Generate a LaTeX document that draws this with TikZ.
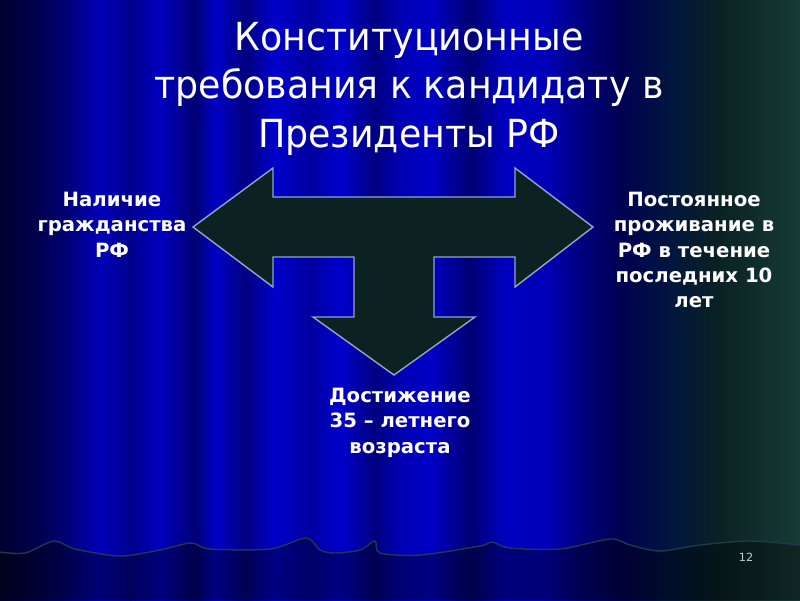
\documentclass[tikz,border=0pt]{standalone}
\usepackage{fontspec}
\setmainfont{DejaVu Sans}
\usepackage{xcolor}
\usetikzlibrary{positioning}
\definecolor{arrowfill}{HTML}{0C2121}
\definecolor{arrowedge}{HTML}{8FA5CC}
\definecolor{hemline}{HTML}{1C3A4C}
\definecolor{tealdark}{HTML}{0A2222}
\definecolor{teallight}{HTML}{173B37}
\definecolor{navyteal}{HTML}{00163E}
\tikzset{
    titletext/.style={text=white, font=\fontsize{27.5}{34.5}\selectfont, align=center, inner sep=0pt,
        xscale=0.94, transform shape},
    reqtext/.style={text=white, font=\bfseries\fontsize{14}{18}\selectfont, align=center, inner sep=0pt},
    tarrow/.style={fill=arrowfill, draw=arrowedge, line width=1pt, line join=miter}
}

\begin{document}
\begin{tikzpicture}[x=0.025cm, y=-0.025cm]
\useasboundingbox (0,0) rectangle (800,600);

% Curtain
\foreach \xa/\xb/\pa/\pb in {0/30/18/28, 30/60/28/42, 60/100/42/72, 100/130/72/55,
    130/160/55/75, 160/195/75/45, 195/215/45/78, 215/245/78/50, 245/275/50/80,
    275/310/80/62, 310/340/62/80, 340/375/80/50, 375/400/50/70, 400/430/70/78,
    430/470/78/45, 470/505/45/75, 505/545/75/72, 545/580/72/50, 580/621/50/32}
    \fill[left color=blue!\pa!black, right color=blue!\pb!black] (\xa,0) rectangle (\xb,600);
\fill[left color=blue!32!black, right color=navyteal] (620,0) rectangle (671,600);
\fill[left color=navyteal, right color=tealdark] (670,0) rectangle (721,600);
\fill[left color=tealdark, right color=teallight] (720,0) rectangle (800,600);

% Hem of the curtain
\fill[black, opacity=0.35] plot[smooth] coordinates {(0,552) (25,553) (54,541) (75,549)
    (120,556) (160,550) (191,543) (210,549) (270,549) (306,538) (320,550) (335,553)
    (360,550) (375,541) (380,553) (420,555) (480,546) (492,542) (510,548) (560,549)
    (610,539) (630,545) (660,551) (700,545) (750,541) (800,545)}
    -- (800,600) -- (0,600) -- cycle;
\draw[hemline, line width=1pt] plot[smooth] coordinates {(0,552) (25,553) (54,541) (75,549)
    (120,556) (160,550) (191,543) (210,549) (270,549) (306,538) (320,550) (335,553)
    (360,550) (375,541) (380,553) (420,555) (480,546) (492,542) (510,548) (560,549)
    (610,539) (630,545) (660,551) (700,545) (750,541) (800,545)};

% Title
\node[titletext, anchor=north] (title) at (409,22)
    {Конституционные\\требования к кандидату в\\Президенты РФ};

% Three-way arrow
\draw[tarrow] (193,227) -- (273,168) -- (273,197) -- (515,197) -- (515,168)
    -- (593,227) -- (515,287) -- (515,257) -- (434,257) -- (434,317) -- (475,317)
    -- (394,375) -- (313,317) -- (354,317) -- (354,257) -- (273,257) -- (273,287) -- cycle;

% Requirements
\node[reqtext, anchor=north] (citizen) at (112,192) {Наличие\\гражданства\\РФ};
\node[reqtext, anchor=north] (resident) at (694,192)
    {Постоянное\\проживание в\\РФ в течение\\последних 10\\лет};
\node[reqtext, anchor=north] (age) at (400,388) {Достижение\\35 – летнего\\возраста};

% Slide number
\node[text=gray!40, font=\fontsize{8}{9}\selectfont, inner sep=0pt] (slideno) at (746,557) {12};

\end{tikzpicture}
\end{document}
